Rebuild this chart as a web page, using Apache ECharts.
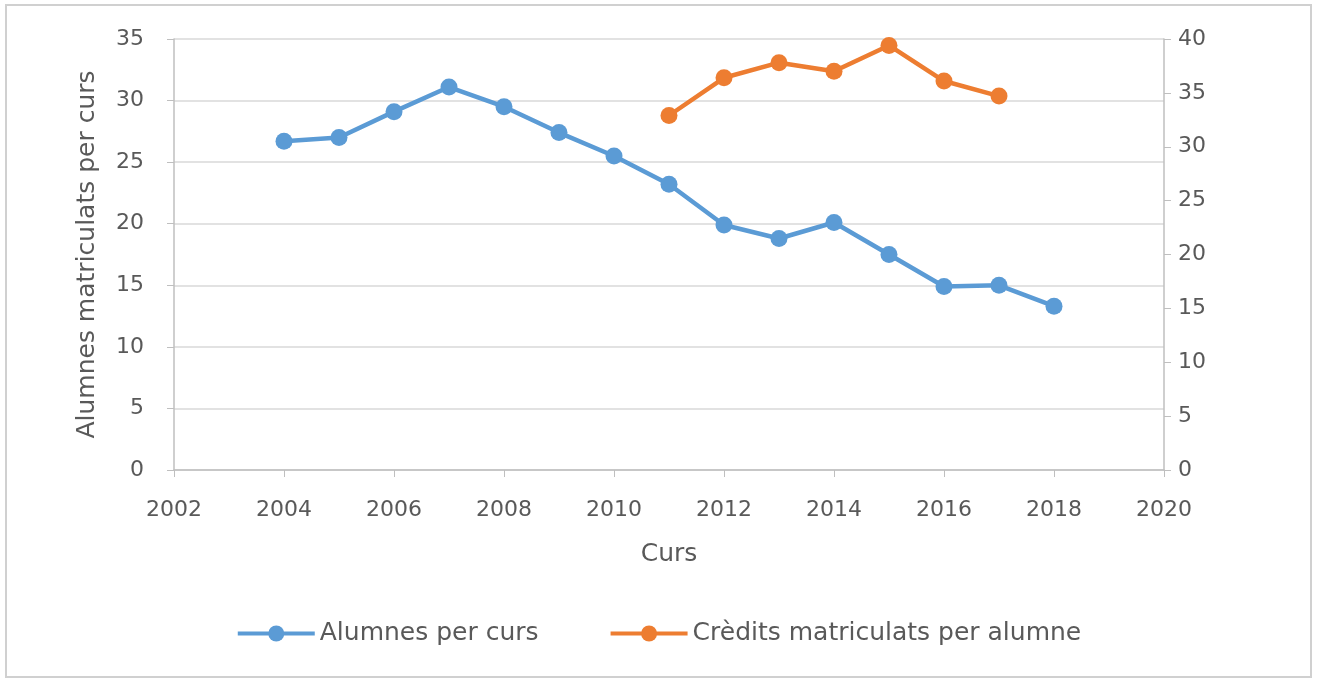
<!DOCTYPE html>
<html>
<head>
<meta charset="utf-8">
<script src="https://cdn.jsdelivr.net/npm/echarts@6/dist/echarts.min.js"></script>
<style>
  html, body { margin: 0; padding: 0; background: #fff; }
  #chart { width: 1317px; height: 679px; }
</style>
</head>
<body>
<div id="chart"></div>
<script>
// valors llegits del gràfic
var years = [2004, 2005, 2006, 2007, 2008, 2009, 2010, 2011, 2012, 2013, 2014, 2015, 2016, 2017, 2018];
var alumnes = [26.7, 27.0, 29.1, 31.1, 29.5, 27.4, 25.5, 23.2, 19.9, 18.8, 20.1, 17.5, 14.9, 15.0, 13.3];
var creditYears = [2011, 2012, 2013, 2014, 2015, 2016, 2017];
var credits = [32.9, 36.4, 37.8, 37.0, 39.4, 36.1, 34.7];

var blue = '#5B9BD5';
var orange = '#ED7D31';
var txt = '#595959';
var axisGray = '#BFBFBF';

function pairs(xs, ys) {
    return xs.map(function (x, i) { return [x, ys[i]]; });
}

var chart = echarts.init(document.getElementById('chart'));

chart.setOption({
    backgroundColor: '#fff',
    animation: false,
    textStyle: { fontFamily: '"DejaVu Sans", sans-serif' },
    graphic: [{
        type: 'rect',
        shape: { x: 6, y: 5, width: 1305, height: 672 },
        style: { fill: 'none', stroke: '#D0D0D0', lineWidth: 2 },
        silent: true
    }],
    grid: { left: 174, right: 153, top: 39, bottom: 209 },
    legend: {
        bottom: 28,
        left: 'center',
        itemWidth: 77,
        itemHeight: 20,
        itemGap: 70,
        lineStyle: { width: 4 },
        textStyle: { color: txt, fontSize: 25 },
        data: ['Alumnes per curs', 'Crèdits matriculats per alumne']
    },
    xAxis: {
        type: 'value',
        min: 2002, max: 2020, interval: 2,
        name: 'Curs',
        nameLocation: 'middle',
        nameGap: 72,
        nameTextStyle: { color: txt, fontSize: 25 },
        axisLine: { lineStyle: { color: axisGray, width: 1.5 } },
        axisTick: { show: true, length: 7, lineStyle: { color: axisGray } },
        axisLabel: { color: txt, fontSize: 22, margin: 29, formatter: function (v) { return String(v); } },
        splitLine: { show: false }
    },
    yAxis: [{
        type: 'value',
        min: 0, max: 35, interval: 5,
        name: 'Alumnes matriculats per curs',
        nameLocation: 'middle',
        nameGap: 74,
        nameTextStyle: { color: txt, fontSize: 25 },
        axisLine: { show: true, lineStyle: { color: axisGray, width: 1.5 } },
        axisTick: { show: true, length: 7, lineStyle: { color: axisGray } },
        axisLabel: { color: txt, fontSize: 22, margin: 30 },
        splitLine: { lineStyle: { color: '#D9D9D9', width: 1.5 } }
    }, {
        type: 'value',
        min: 0, max: 40, interval: 5,
        position: 'right',
        axisLine: { show: true, lineStyle: { color: axisGray, width: 1.5 } },
        axisTick: { show: true, length: 7, lineStyle: { color: axisGray } },
        axisLabel: { color: txt, fontSize: 22, margin: 14 },
        splitLine: { show: false }
    }],
    series: [{
        name: 'Alumnes per curs',
        type: 'line',
        yAxisIndex: 0,
        data: pairs(years, alumnes),
        symbol: 'circle',
        symbolSize: 17,
        itemStyle: { color: blue },
        lineStyle: { color: blue, width: 4.5 }
    }, {
        name: 'Crèdits matriculats per alumne',
        type: 'line',
        yAxisIndex: 1,
        data: pairs(creditYears, credits),
        symbol: 'circle',
        symbolSize: 17,
        itemStyle: { color: orange },
        lineStyle: { color: orange, width: 4.5 }
    }]
});
</script>
</body>
</html>
